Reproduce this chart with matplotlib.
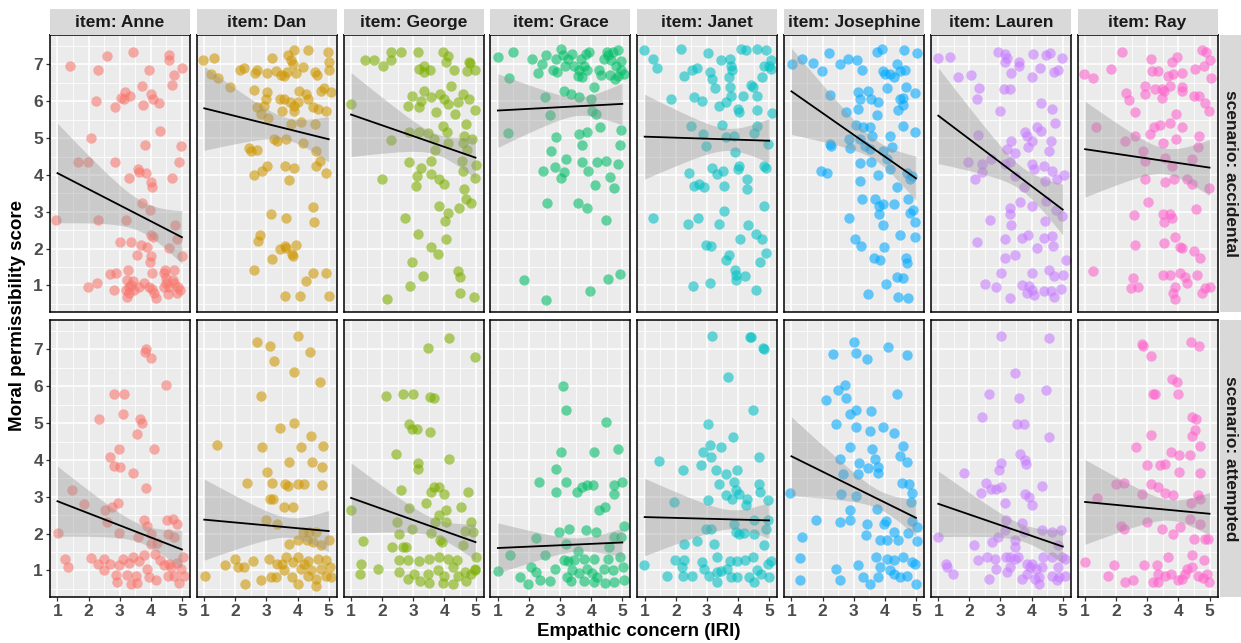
import numpy as np
import matplotlib
matplotlib.use("Agg")
import matplotlib.pyplot as plt

plt.rcParams['font.family'] = ['Liberation Sans', 'DejaVu Sans']

items = ["Anne", "Dan", "George", "Grace", "Janet", "Josephine", "Lauren", "Ray"]
scenarios = ["accidental", "attempted"]
colors = ["#F8766D", "#CD9600", "#7CAE00", "#00BE67",
          "#00BFC4", "#00A9FF", "#C77CFF", "#FF61CC"]
x_ticks = [1, 2, 3, 4, 5]
y_ticks = [1, 2, 3, 4, 5, 6, 7]

# (empathic concern, permissibility) per participant, accidental scenario
anne_acc = [(0.96,2.79),(1.41,6.97),(1.65,4.34),(1.97,4.35),(1.97,0.97),(2.09,5.00),(2.25,6.02),(2.30,6.84),(2.27,1.06),(2.30,2.79),(2.60,7.23),(2.68,1.31),(2.84,5.84),(2.84,4.34),(2.83,0.88),(2.89,1.35),(3.00,2.18),(3.03,6.10),(3.13,6.06),(3.17,6.25),(3.33,6.14),(3.29,3.91),(3.20,2.79),(3.35,2.18),(3.42,7.34),(3.22,1.15),(3.19,0.88),(3.24,0.70),(3.29,0.97),(3.27,1.43),(3.57,1.84),(3.62,0.97),(3.59,4.17),(3.61,4.09),(3.67,2.11),(3.72,3.25),(3.73,6.41),(3.75,5.90),(3.81,4.81),(3.85,4.06),(3.89,2.04),(3.94,6.84),(3.98,3.06),(4.00,3.81),(4.03,3.67),(4.02,6.20),(4.08,6.06),(4.02,1.79),(3.96,1.64),(4.03,1.34),(4.05,0.90),(4.10,0.79),(4.16,0.67),(4.02,2.36),(4.08,2.31),(4.25,5.95),(4.30,5.20),(4.43,0.97),(4.41,1.34),(4.46,1.43),(4.49,1.08),(4.54,0.76),(4.57,2.02),(4.59,7.25),(4.59,7.11),(4.67,6.43),(4.68,3.91),(4.73,1.43),(4.75,6.72),(4.75,1.06),(4.70,1.15),(4.77,2.63),(4.84,2.26),(4.92,4.35),(4.97,4.79),(5.01,6.90),(5.00,1.79),(4.95,0.88),(4.86,0.95),(3.46,0.88),(3.44,1.13),(3.78,1.06),(3.30,0.80),(3.36,1.02),(4.48,1.20),(4.60,0.95),(4.85,0.80),(3.95,0.95)]
dan_acc = [(0.95,7.13),(1.30,7.18),(1.22,6.75),(1.43,6.64),(1.84,6.38),(2.16,6.85),(2.29,6.90),(2.68,6.84),(2.62,6.77),(2.60,6.31),(2.44,4.73),(2.49,4.65),(2.70,4.68),(2.60,4.01),(2.85,4.11),(3.03,4.25),(2.60,1.43),(2.79,2.36),(2.74,2.20),(3.03,6.77),(3.17,7.18),(3.31,6.81),(3.03,6.25),(2.97,6.06),(2.92,5.88),(2.70,5.84),(2.81,5.65),(3.04,5.56),(3.16,2.93),(3.19,1.72),(3.44,1.99),(3.60,2.06),(3.46,6.72),(3.57,6.70),(3.67,6.79),(3.70,7.25),(3.78,7.13),(3.87,7.38),(3.84,7.02),(3.94,6.77),(4.16,6.93),(4.32,7.38),(3.44,6.05),(3.57,6.06),(3.49,5.75),(3.24,4.97),(3.33,4.93),(3.62,4.97),(3.59,4.25),(3.71,3.85),(3.87,4.18),(3.62,2.84),(3.61,0.72),(3.62,2.02),(3.81,1.85),(3.85,1.79),(3.94,2.09),(4.08,0.72),(3.76,5.97),(3.89,5.88),(4.02,5.99),(4.06,6.29),(3.89,5.73),(3.78,5.38),(4.11,5.43),(4.16,4.88),(4.27,6.20),(4.34,6.06),(4.56,6.79),(4.62,6.72),(4.48,5.84),(4.56,5.38),(4.67,5.79),(4.75,6.29),(4.84,6.35),(4.91,5.75),(4.59,4.65),(4.59,4.25),(4.73,4.38),(4.48,3.14),(4.53,2.72),(4.48,1.35),(4.27,1.13),(4.91,1.34),(5.00,0.72),(4.91,4.06),(4.97,7.34),(5.02,7.06),(5.00,6.84),(5.08,6.26)]
george_acc = [(1.00,5.93),(1.44,7.13),(1.73,7.13),(2.02,6.97),(2.27,7.34),(2.29,7.11),(2.62,7.35),(3.16,7.35),(3.19,6.88),(3.35,6.97),(3.54,6.85),(3.94,7.35),(4.10,7.23),(4.05,7.06),(4.30,6.85),(4.79,7.06),(4.73,6.81),(4.99,6.85),(2.97,6.14),(2.84,5.88),(3.19,5.84),(3.33,6.29),(3.24,6.02),(3.57,6.11),(3.73,5.70),(3.87,6.20),(4.00,6.06),(4.20,6.41),(4.11,5.93),(4.34,5.65),(4.43,5.97),(4.59,6.20),(4.70,5.38),(4.78,6.06),(4.99,5.76),(2.27,4.95),(2.87,5.17),(3.19,5.17),(3.46,5.15),(3.68,4.97),(3.94,5.32),(4.08,5.18),(3.70,4.68),(4.10,4.86),(4.59,4.88),(4.64,5.06),(4.88,4.97),(4.73,4.68),(4.56,4.38),(5.02,4.27),(4.99,3.93),(4.59,4.11),(2.87,4.35),(3.57,4.38),(3.24,4.20),(3.57,4.02),(3.13,3.97),(3.84,3.88),(3.98,3.75),(2.00,3.88),(3.10,3.70),(4.64,3.62),(4.70,3.34),(4.84,3.25),(4.48,3.11),(3.84,3.15),(4.10,2.97),(4.02,2.75),(2.73,2.84),(4.05,2.25),(3.16,2.40),(3.57,2.05),(3.78,1.85),(2.97,1.63),(3.30,1.26),(4.43,1.38),(4.50,1.22),(2.90,0.99),(2.16,0.64),(4.50,0.79),(4.94,0.70),(3.35,6.80),(4.82,7.05)]
grace_acc = [(0.99,7.20),(1.35,6.64),(1.49,7.34),(1.31,5.15),(1.83,1.15),(2.10,7.15),(2.28,6.77),(2.42,7.02),(2.53,6.11),(2.56,7.25),(2.69,5.63),(2.78,6.84),(2.86,7.15),(2.91,6.79),(3.02,7.43),(3.10,7.25),(3.12,6.29),(3.26,7.14),(3.34,6.20),(3.39,7.29),(3.45,6.97),(3.61,6.11),(3.61,6.85),(3.66,7.15),(3.82,7.29),(3.93,7.34),(3.77,6.97),(3.56,6.70),(3.88,6.84),(3.99,6.06),(4.09,6.38),(4.04,5.75),(4.15,5.65),(4.26,6.84),(4.31,6.72),(4.50,7.34),(4.69,7.34),(4.85,7.38),(4.63,7.11),(4.79,6.97),(4.97,6.84),(5.04,6.75),(4.86,6.70),(4.59,6.72),(4.53,7.25),(4.40,7.15),(4.29,5.31),(4.96,5.23),(2.88,5.04),(2.72,4.65),(3.61,5.11),(3.88,5.17),(3.72,4.82),(4.92,4.82),(3.20,4.43),(2.45,4.11),(2.83,4.22),(3.12,4.08),(3.04,3.93),(3.72,4.34),(3.90,4.11),(4.20,4.34),(4.47,4.38),(4.85,4.29),(4.61,3.95),(4.12,3.72),(4.72,3.65),(2.58,3.25),(3.58,3.25),(3.86,3.11),(4.47,2.79),(2.55,0.61),(3.96,0.84),(4.55,1.17),(4.92,1.31),(3.15,6.95),(3.70,6.65),(4.95,7.10),(4.75,6.60)]
janet_acc = [(0.98,7.38),(1.26,7.15),(1.41,6.90),(2.16,7.41),(2.25,6.68),(1.84,6.06),(1.28,2.84),(2.52,6.85),(2.68,6.90),(2.60,6.13),(2.84,6.02),(2.50,5.34),(2.88,5.11),(2.98,4.79),(3.03,7.32),(3.11,6.79),(3.17,6.61),(3.26,6.35),(3.44,7.11),(3.38,5.88),(3.49,5.35),(3.60,5.99),(3.74,7.15),(3.76,6.97),(3.81,6.84),(3.71,6.65),(3.74,6.38),(3.76,6.15),(3.62,5.02),(3.87,5.05),(3.89,4.63),(4.00,5.79),(4.03,5.70),(4.17,6.15),(4.10,7.41),(4.26,7.38),(4.41,6.43),(4.47,6.38),(4.60,7.43),(4.62,6.15),(4.60,5.77),(4.78,6.65),(4.82,6.97),(4.89,7.38),(5.00,6.97),(5.05,7.11),(5.05,6.88),(5.08,5.67),(4.60,5.33),(4.51,5.15),(4.97,4.84),(4.84,4.25),(4.89,4.20),(4.03,4.25),(4.00,4.16),(2.44,4.06),(3.17,4.20),(3.31,4.02),(3.53,4.11),(2.57,3.70),(2.74,3.75),(2.90,3.66),(3.55,3.70),(4.30,3.88),(4.28,3.61),(4.84,3.15),(3.55,3.02),(2.39,2.68),(2.70,2.84),(3.39,2.68),(4.32,2.63),(4.57,2.41),(4.06,2.26),(4.78,2.25),(2.98,2.11),(3.13,2.06),(4.89,1.88),(4.71,1.63),(3.60,1.70),(3.70,1.82),(3.89,1.41),(3.95,1.29),(4.21,1.26),(3.92,1.15),(2.54,0.99),(3.11,1.08),(4.57,0.88)]
josephine_acc = [(1.01,7.00),(1.34,7.15),(1.69,7.04),(1.99,6.81),(2.21,7.31),(2.55,7.00),(2.82,7.15),(3.11,7.11),(3.28,6.84),(2.25,6.18),(2.75,5.72),(3.15,6.26),(3.20,6.06),(3.15,5.79),(3.47,6.29),(3.55,6.06),(3.74,7.34),(3.90,7.41),(3.79,5.97),(3.76,5.63),(3.93,6.81),(4.01,6.75),(4.17,6.75),(4.28,6.65),(4.06,6.35),(4.39,7.02),(4.61,7.38),(4.49,6.81),(4.65,6.84),(5.05,7.31),(4.69,6.38),(4.98,6.23),(4.49,6.06),(4.60,6.10),(4.44,5.76),(4.58,5.90),(4.58,5.33),(4.98,5.17),(4.17,5.06),(4.22,4.75),(3.07,5.35),(3.31,5.29),(3.52,5.29),(3.58,5.06),(2.85,4.97),(2.87,4.73),(2.23,4.84),(2.28,4.80),(3.20,4.97),(3.37,4.79),(3.53,4.70),(3.95,4.65),(4.06,4.43),(3.20,4.32),(3.55,4.34),(1.96,4.11),(2.14,4.05),(3.79,4.00),(4.17,4.15),(4.71,4.06),(4.80,3.88),(4.88,3.98),(3.20,3.83),(4.39,3.68),(3.26,3.34),(3.69,3.35),(3.80,3.17),(3.95,3.20),(4.28,3.20),(4.76,3.34),(4.92,3.06),(4.80,2.97),(3.82,2.93),(2.84,2.84),(3.95,2.63),(4.49,2.38),(4.96,2.72),(4.96,2.31),(3.04,2.26),(3.22,2.06),(3.98,2.05),(3.66,1.75),(3.86,1.68),(4.69,1.75),(4.71,1.62),(4.04,1.04),(4.39,1.23),(4.58,1.20),(3.47,0.77),(4.44,0.70),(4.76,0.65)]
lauren_acc = [(0.98,7.17),(1.38,7.20),(1.65,6.67),(2.06,6.72),(2.32,6.35),(2.24,6.06),(2.99,5.75),(2.29,5.08),(1.95,4.35),(2.17,3.88),(2.92,7.34),(3.13,7.29),(3.16,7.08),(3.20,7.18),(3.59,7.06),(3.61,6.97),(3.35,6.77),(3.10,6.34),(3.32,6.34),(4.06,7.29),(4.47,7.25),(4.58,7.31),(4.99,7.17),(4.26,6.90),(4.02,6.65),(4.72,6.79),(4.86,6.86),(4.29,5.95),(4.67,5.79),(4.75,5.40),(3.78,5.17),(4.16,5.29),(4.29,5.20),(3.86,5.06),(4.02,4.93),(4.61,4.93),(3.35,4.93),(3.21,4.70),(3.48,4.61),(3.89,4.75),(4.56,4.65),(2.40,4.29),(2.70,4.43),(3.30,4.34),(3.16,4.29),(4.02,4.29),(4.07,4.15),(4.40,4.25),(4.64,4.11),(2.40,4.08),(3.48,3.97),(4.43,3.84),(4.83,3.88),(5.04,3.99),(3.75,3.68),(3.64,3.26),(4.00,3.15),(3.32,3.11),(4.45,3.29),(4.78,3.04),(4.99,2.88),(3.32,2.93),(2.65,2.77),(3.35,2.63),(4.43,2.75),(2.24,2.18),(3.16,2.26),(3.70,2.29),(3.89,2.38),(4.40,2.29),(4.67,2.34),(4.69,2.08),(4.18,2.02),(3.46,1.84),(3.16,1.75),(5.10,1.70),(3.03,1.35),(4.56,1.41),(4.72,1.25),(5.01,1.29),(4.02,1.34),(2.51,1.04),(2.87,0.95),(3.29,0.67),(3.70,1.02),(3.93,0.99),(4.02,0.88),(3.86,0.79),(4.08,0.75),(4.40,0.84),(4.61,0.86),(4.72,0.70),(4.94,0.90)]
ray_acc = [(0.98,6.75),(1.27,6.64),(1.36,5.31),(1.27,1.38),(1.82,6.88),(2.19,7.34),(2.33,6.22),(2.40,6.04),(2.62,5.70),(2.27,4.91),(2.59,5.05),(2.57,2.90),(2.62,2.11),(2.54,1.20),(2.70,0.95),(2.48,0.93),(2.92,6.41),(2.94,6.20),(3.11,7.15),(3.15,6.81),(3.24,6.34),(3.33,6.81),(3.46,6.34),(3.46,6.08),(3.55,6.29),(3.67,6.70),(3.73,6.41),(3.78,7.08),(3.96,7.20),(3.84,6.75),(4.11,6.77),(4.11,6.29),(4.11,6.38),(4.54,6.88),(4.75,7.38),(4.89,7.34),(5.02,7.11),(5.04,6.64),(4.81,6.97),(4.49,6.15),(4.65,6.15),(4.86,5.95),(4.97,5.75),(3.93,5.65),(3.73,5.40),(3.40,5.35),(3.22,5.29),(4.11,5.31),(3.08,5.11),(3.49,4.86),(3.93,4.97),(4.65,5.06),(4.63,4.77),(2.87,4.65),(2.92,4.38),(3.57,4.47),(4.43,4.43),(3.78,4.25),(2.92,3.88),(3.57,3.81),(3.87,3.88),(4.27,3.88),(4.43,3.75),(4.97,3.65),(3.01,3.26),(4.56,3.08),(3.51,2.93),(3.73,2.93),(3.55,2.72),(3.80,2.84),(3.89,2.32),(4.05,2.05),(4.10,2.02),(3.55,2.16),(4.51,1.93),(4.70,1.75),(3.51,1.29),(3.73,1.29),(4.05,1.34),(3.89,0.97),(3.84,0.79),(4.21,1.23),(4.29,1.06),(4.59,1.29),(4.75,0.79),(5.02,0.97),(4.86,0.93),(3.89,0.63)]

# (empathic concern, permissibility) per participant, attempted scenario
anne_att = [(1.03,2.02),(1.23,1.32),(1.33,1.09),(1.46,3.18),(1.84,2.81),(2.08,1.34),(2.35,5.10),(2.30,1.18),(2.48,1.30),(2.51,1.00),(2.54,2.65),(2.60,2.31),(2.70,4.08),(2.68,1.18),(2.75,2.72),(2.83,5.80),(2.81,3.83),(2.87,0.89),(2.90,0.68),(2.94,2.83),(2.97,4.31),(2.97,2.02),(3.00,3.81),(3.13,5.80),(3.10,5.26),(3.11,1.32),(3.22,0.89),(3.35,0.64),(3.42,3.65),(3.57,0.66),(3.51,0.86),(3.59,1.91),(3.57,4.70),(3.65,5.10),(3.73,5.01),(3.78,2.38),(3.84,3.25),(3.84,7.00),(3.81,6.94),(4.02,6.78),(4.11,4.31),(3.89,2.22),(4.00,1.98),(4.02,1.72),(4.21,1.74),(4.12,1.44),(3.89,1.05),(3.94,0.82),(4.16,0.73),(4.30,1.29),(4.41,1.14),(4.48,6.03),(4.51,2.36),(4.56,2.00),(4.54,0.86),(4.70,2.40),(4.75,1.91),(4.84,2.27),(4.75,0.84),(4.91,0.66),(5.02,1.36),(5.07,0.86),(4.97,1.05),(4.59,1.18),(3.44,1.36),(3.30,1.20),(2.97,1.16),(3.78,1.41),(3.62,1.25),(4.65,1.10),(4.85,1.20)]
dan_att = [(1.03,0.84),(1.41,4.40),(1.68,1.16),(2.00,1.32),(2.08,1.09),(2.27,1.09),(2.30,0.64),(2.36,3.37),(2.57,1.27),(2.70,7.21),(2.83,5.73),(2.87,4.35),(2.81,0.73),(3.03,3.67),(3.00,2.36),(3.11,7.09),(3.24,6.69),(3.19,3.37),(3.11,2.95),(3.22,2.95),(3.13,0.82),(3.29,0.82),(3.08,1.32),(3.35,2.27),(3.44,4.86),(3.59,3.36),(3.57,2.72),(3.71,3.95),(3.70,3.28),(3.84,2.72),(3.89,6.39),(3.89,5.01),(4.02,7.37),(4.11,4.35),(4.02,3.36),(4.21,3.36),(4.41,6.94),(4.43,4.64),(4.46,3.95),(4.73,6.12),(4.81,4.37),(4.78,3.81),(4.78,3.31),(3.73,1.73),(4.00,1.82),(4.16,2.04),(4.38,2.04),(4.30,1.82),(4.59,2.04),(4.48,1.77),(4.75,1.68),(5.02,1.82),(3.62,1.36),(3.84,1.23),(4.00,1.36),(4.32,1.27),(4.64,1.32),(4.91,1.29),(5.05,1.09),(3.57,1.00),(4.11,1.05),(4.43,1.00),(4.75,1.05),(3.81,0.82),(4.32,0.86),(4.59,0.77),(4.91,0.86),(5.07,0.82),(4.00,0.62),(4.59,0.59),(3.35,1.18),(3.51,1.18),(4.21,1.18)]
george_att = [(1.00,2.65),(1.38,1.79),(1.32,1.18),(1.28,0.91),(1.87,1.05),(2.13,5.73),(2.43,4.15),(2.33,1.65),(2.54,1.29),(2.54,0.96),(2.62,3.18),(2.48,2.31),(2.54,1.98),(2.68,5.80),(2.68,1.65),(2.75,1.65),(2.86,4.99),(2.95,4.85),(3.11,4.85),(2.99,5.80),(2.86,2.70),(2.95,2.13),(2.83,1.29),(2.84,0.77),(3.16,3.93),(3.16,3.76),(3.19,1.27),(3.22,0.71),(3.40,2.84),(3.48,7.05),(3.53,5.71),(3.67,5.69),(3.53,4.76),(3.57,3.13),(3.67,3.27),(3.84,3.27),(4.00,3.08),(3.57,2.01),(3.70,2.31),(3.82,2.50),(4.05,2.63),(4.05,2.31),(3.86,1.83),(3.93,1.77),(4.16,4.03),(4.16,7.30),(4.54,2.72),(4.77,3.13),(4.86,2.31),(4.92,2.04),(4.59,1.68),(4.65,2.08),(4.99,6.80),(5.02,1.36),(4.97,1.05),(3.51,1.32),(3.84,1.36),(4.11,1.32),(4.41,1.29),(3.46,0.91),(3.78,1.00),(4.00,0.86),(4.27,1.09),(4.43,0.86),(4.65,0.96),(4.86,0.91),(3.51,0.66),(3.95,0.66),(4.27,0.64),(4.70,0.71),(3.03,0.91),(4.97,1.00)]
grace_att = [(0.99,0.98),(1.40,1.41),(1.72,0.82),(1.96,0.64),(2.05,1.09),(2.24,0.95),(2.32,3.40),(2.35,0.75),(2.23,1.88),(2.53,1.41),(2.67,0.71),(2.85,1.05),(2.88,3.76),(2.88,3.13),(2.98,2.04),(3.04,4.22),(3.09,6.00),(3.18,5.37),(3.18,3.40),(3.28,2.13),(3.18,1.72),(3.12,1.29),(3.25,1.27),(3.23,0.82),(3.39,1.02),(3.55,3.13),(3.72,3.27),(3.86,3.31),(4.06,3.33),(4.09,4.22),(4.26,2.63),(4.44,2.72),(4.47,5.04),(4.72,3.08),(4.74,3.31),(4.87,4.31),(4.99,3.40),(5.04,2.20),(4.15,2.04),(3.83,2.09),(4.74,1.91),(4.95,1.91),(4.56,1.63),(3.56,1.54),(3.45,1.29),(3.77,1.32),(4.09,1.32),(4.53,1.32),(4.94,1.36),(3.61,0.93),(3.88,1.05),(4.04,0.93),(4.20,0.82),(4.42,1.05),(4.69,1.00),(5.01,1.09),(5.04,0.73),(3.34,0.71),(3.77,0.71),(4.09,0.68),(4.44,0.66),(4.74,0.68)]
janet_att = [(0.98,1.14),(1.45,3.97),(1.71,0.85),(1.93,2.86),(1.98,1.29),(2.23,3.74),(2.27,1.72),(2.25,1.29),(2.20,1.09),(2.23,0.86),(2.52,0.86),(2.68,1.79),(2.81,3.85),(2.88,4.22),(2.84,1.23),(2.90,1.05),(3.03,4.97),(3.03,2.90),(3.09,4.40),(3.12,4.08),(3.12,2.13),(3.06,0.86),(3.17,7.36),(3.22,1.72),(3.28,3.72),(3.31,1.36),(3.31,0.95),(3.31,0.68),(3.38,3.34),(3.46,4.34),(3.44,0.98),(3.60,3.04),(3.63,3.63),(3.68,6.26),(3.65,1.05),(3.74,1.27),(3.81,2.95),(3.85,4.63),(3.87,3.40),(3.98,3.74),(3.95,3.18),(4.03,3.08),(3.87,2.27),(3.95,2.04),(4.03,1.98),(3.98,1.27),(3.98,0.82),(4.19,2.02),(4.25,2.77),(4.30,2.93),(4.21,1.29),(4.39,7.34),(4.43,7.34),(4.47,5.35),(4.50,2.38),(4.50,1.98),(4.47,1.36),(4.35,0.82),(4.52,0.68),(4.68,4.08),(4.68,3.34),(4.71,3.13),(4.82,1.68),(4.79,7.03),(4.82,7.00),(4.97,2.90),(4.95,2.36),(4.90,2.13),(4.95,1.18),(5.00,0.82),(5.05,1.27),(4.73,0.91),(4.62,1.00),(2.98,2.13),(3.76,0.82)]
josephine_att = [(0.96,3.10),(1.34,1.92),(1.29,1.34),(1.29,0.75),(1.78,2.36),(2.10,5.64),(2.34,6.89),(2.42,4.97),(2.42,1.05),(2.50,5.90),(2.55,2.31),(2.57,0.75),(2.57,4.04),(2.60,3.08),(2.71,6.03),(2.74,5.69),(2.87,5.24),(2.87,4.35),(2.87,2.63),(2.89,2.38),(3.00,7.21),(3.07,6.91),(3.09,5.35),(3.07,4.90),(3.18,3.92),(3.15,3.63),(3.09,3.01),(3.15,1.14),(3.31,0.82),(3.42,2.27),(3.39,1.95),(3.44,6.73),(3.55,5.33),(3.52,4.79),(3.47,3.77),(3.58,4.31),(3.69,4.04),(3.77,3.81),(3.79,3.65),(3.74,2.67),(3.72,1.36),(3.52,0.64),(3.79,0.82),(3.86,1.82),(3.95,4.90),(3.97,2.27),(4.03,2.34),(4.11,7.07),(4.17,1.00),(4.28,4.72),(4.28,2.04),(4.39,5.79),(4.44,1.82),(4.49,4.11),(4.59,4.37),(4.70,6.85),(4.70,3.95),(4.55,3.37),(4.78,3.35),(4.88,3.10),(4.85,2.86),(4.88,2.34),(5.03,2.17),(5.03,1.80),(5.01,0.64),(4.76,2.01),(4.88,1.23),(4.98,1.18),(4.60,1.36),(4.28,1.29),(4.06,1.32),(3.86,1.09),(4.28,0.91),(4.49,0.82),(4.70,0.86),(4.06,1.82),(2.65,3.63)]
lauren_att = [(0.98,1.91),(1.24,1.18),(1.27,1.09),(1.46,0.91),(1.84,3.65),(2.16,1.68),(2.27,1.29),(2.38,3.10),(2.40,5.17),(2.54,3.37),(2.56,1.36),(2.62,0.77),(2.64,5.80),(2.72,1.77),(2.70,3.22),(2.85,3.22),(2.85,1.05),(2.92,1.91),(2.96,3.72),(3.03,3.92),(3.03,7.36),(3.03,3.27),(3.16,2.83),(3.18,2.38),(3.16,2.09),(3.18,1.36),(3.21,0.96),(3.32,1.09),(3.46,6.35),(3.48,1.83),(3.48,1.65),(3.55,1.36),(3.59,5.69),(3.64,4.15),(3.53,4.97),(3.75,4.97),(3.70,2.29),(3.75,2.04),(3.80,4.01),(3.82,3.88),(3.80,3.08),(3.93,2.99),(4.00,2.79),(3.86,1.18),(3.70,0.77),(3.95,1.10),(4.11,0.77),(4.23,0.82),(4.34,3.28),(4.32,2.11),(4.45,5.91),(4.56,7.30),(4.56,4.63),(4.64,2.04),(4.36,1.36),(4.67,1.36),(4.86,1.68),(4.94,2.11),(4.99,1.36),(5.08,1.32),(4.86,1.09),(4.64,0.86),(4.88,0.82),(5.08,0.86),(4.83,0.73),(4.34,1.09),(4.13,1.05),(4.02,1.18),(3.86,0.91),(4.23,0.64),(3.46,1.30),(3.32,1.36),(2.83,1.32)]
ray_att = [(1.01,1.23),(1.39,2.98),(1.73,0.86),(1.93,1.16),(2.01,3.34),(2.25,3.37),(2.17,2.22),(2.25,2.13),(2.27,0.68),(2.54,0.73),(2.65,4.34),(2.83,7.16),(2.87,7.09),(2.83,3.08),(2.90,1.14),(3.00,3.86),(3.00,2.31),(3.11,6.82),(3.11,3.34),(3.13,4.67),(3.19,5.80),(3.25,5.80),(3.30,1.14),(3.33,0.91),(3.35,3.26),(3.40,3.86),(3.48,2.13),(3.57,3.90),(3.57,3.10),(3.67,1.36),(3.76,4.22),(3.79,6.21),(3.84,1.98),(3.84,3.04),(3.95,6.12),(4.00,5.80),(4.02,4.13),(4.02,3.67),(4.05,2.18),(4.00,0.73),(3.76,0.91),(4.22,0.91),(4.41,7.21),(4.43,5.17),(4.56,5.10),(4.52,4.82),(4.43,4.64),(4.38,4.13),(4.65,7.09),(4.68,4.37),(4.71,3.65),(4.62,3.04),(4.68,2.95),(4.41,2.83),(4.36,2.40),(4.43,1.41),(4.51,1.85),(4.68,2.27),(4.84,1.85),(4.95,1.86),(4.82,1.29),(4.92,0.91),(4.98,0.68),(4.80,0.80),(4.64,0.86),(4.43,1.09),(4.27,1.05),(4.11,0.77),(3.57,0.84),(3.35,0.68),(3.19,0.70)]

acc_points = [anne_acc, dan_acc, george_acc, grace_acc, janet_acc, josephine_acc, lauren_acc, ray_acc]
att_points = [anne_att, dan_att, george_att, grace_att, janet_att, josephine_att, lauren_att, ray_att]

# linear fit: predicted score at IRI = 1 and IRI = 5, and 95% CI half-widths
acc_fit_at1 = [4.05, 5.81, 5.64, 5.75, 5.04, 6.27, 5.61, 4.70]
acc_fit_at5 = [2.31, 4.97, 4.47, 5.93, 4.93, 3.91, 3.06, 4.20]
acc_ci_at1 = [1.35, 1.14, 1.14, 1.00, 1.15, 1.17, 1.30, 1.30]
acc_ci_at5 = [0.72, 0.62, 0.57, 0.57, 0.60, 0.60, 0.69, 0.76]
acc_ci_min = [0.42, 0.30, 0.28, 0.25, 0.30, 0.28, 0.32, 0.35]

att_fit_at1 = [2.88, 2.38, 2.97, 1.61, 2.45, 4.10, 2.81, 2.86]
att_fit_at5 = [1.57, 2.07, 1.77, 1.76, 2.36, 2.43, 1.65, 2.54]
att_ci_at1 = [0.95, 1.10, 0.95, 0.68, 1.05, 1.07, 0.89, 1.15]
att_ci_at5 = [0.52, 0.56, 0.49, 0.39, 0.49, 0.49, 0.45, 0.58]
att_ci_min = [0.25, 0.27, 0.24, 0.18, 0.26, 0.25, 0.23, 0.28]

points_by_row = [acc_points, att_points]
fit1_by_row = [acc_fit_at1, att_fit_at1]
fit5_by_row = [acc_fit_at5, att_fit_at5]
ci1_by_row = [acc_ci_at1, att_ci_at1]
ci5_by_row = [acc_ci_at5, att_ci_at5]
cimin_by_row = [acc_ci_min, att_ci_min]


def ci_halfwidth(xs, h1, h5, hmin):
    """Hyperbolic confidence half-width of an OLS line passing h1 at x=1, h5 at x=5."""
    a = np.sqrt(max(h1 ** 2 - hmin ** 2, 1e-9))
    b = np.sqrt(max(h5 ** 2 - hmin ** 2, 1e-9))
    x0 = (5 * a + b) / (a + b)
    k = (a / (x0 - 1)) ** 2
    return np.sqrt(hmin ** 2 + k * (xs - x0) ** 2)


W, H = 1241, 643
fig = plt.figure(figsize=(W / 100, H / 100), dpi=100)


def px_axes(x0, y0, w, h):
    return fig.add_axes([x0 / W, 1 - (y0 + h) / H, w / W, h / H])


lefts = [50 + i * 146.8 for i in range(8)]
panel_w = 140
tops = [35, 320]
panel_h = 277
tick_color = "#4D4D4D"

for r in range(2):
    for c in range(8):
        ax = px_axes(lefts[c], tops[r], panel_w, panel_h)
        ax.set_facecolor("#EBEBEB")
        ax.set_xlim(0.76, 5.26)
        ax.set_ylim(0.28, 7.8)
        ax.set_xticks(x_ticks)
        ax.set_yticks(y_ticks)
        ax.set_xticks([1.5, 2.5, 3.5, 4.5], minor=True)
        ax.set_yticks([0.5, 1.5, 2.5, 3.5, 4.5, 5.5, 6.5, 7.5], minor=True)
        ax.grid(which="major", color="white", linewidth=1.1)
        ax.grid(which="minor", color="white", linewidth=0.55)
        ax.set_axisbelow(True)
        for s in ax.spines.values():
            s.set_color("black")
            s.set_linewidth(1.1)
        ax.tick_params(which="minor", length=0)
        ax.tick_params(which="major", length=3, width=0.9, color="#333333",
                       labelsize=12.5, labelcolor=tick_color, pad=2)
        ax.tick_params(axis="x", bottom=(r == 1), labelbottom=(r == 1))
        ax.tick_params(axis="y", left=(c == 0), labelleft=(c == 0))
        for lab in ax.get_xticklabels() + ax.get_yticklabels():
            lab.set_fontweight("bold")

        pts = np.array(points_by_row[r][c])
        ax.scatter(pts[:, 0], pts[:, 1], s=56, color=colors[c], alpha=0.58,
                   linewidths=0, zorder=2, clip_on=False)

        xs = np.linspace(1, 5, 120)
        y1, y5 = fit1_by_row[r][c], fit5_by_row[r][c]
        yfit = y1 + (y5 - y1) * (xs - 1) / 4
        hw = ci_halfwidth(xs, ci1_by_row[r][c], ci5_by_row[r][c], cimin_by_row[r][c])
        ax.fill_between(xs, yfit - hw, yfit + hw, color="#999999", alpha=0.4,
                        linewidth=0, zorder=3)
        ax.plot(xs, yfit, color="black", linewidth=1.3, zorder=4)

        if r == 0:
            sax = px_axes(lefts[c], 8.5, panel_w, 26.5)
            sax.set_facecolor("#D9D9D9")
            sax.set_xticks([]); sax.set_yticks([])
            for s in sax.spines.values():
                s.set_visible(False)
            sax.text(0.5, 0.47, f"item: {items[c]}", ha="center", va="center",
                     fontsize=12.5, fontweight="bold", color="#1A1A1A",
                     transform=sax.transAxes)

    rax = px_axes(1220, tops[r], 21, panel_h)
    rax.set_facecolor("#D9D9D9")
    rax.set_xticks([]); rax.set_yticks([])
    for s in rax.spines.values():
        s.set_visible(False)
    rax.text(0.5, 0.5, f"scenario: {scenarios[r]}", ha="center", va="center",
             rotation=-90, fontsize=12.5, fontweight="bold", color="#1A1A1A",
             transform=rax.transAxes)

fig.text(18 / W, 1 - 316 / H, "Moral permissibility score", rotation=90,
         ha="center", va="center", fontsize=13.5, fontweight="bold")
fig.text(639 / W, 1 - 632 / H, "Empathic concern (IRI)",
         ha="center", va="center", fontsize=13.5, fontweight="bold")

fig.savefig("out.png", dpi=100, facecolor="white")
